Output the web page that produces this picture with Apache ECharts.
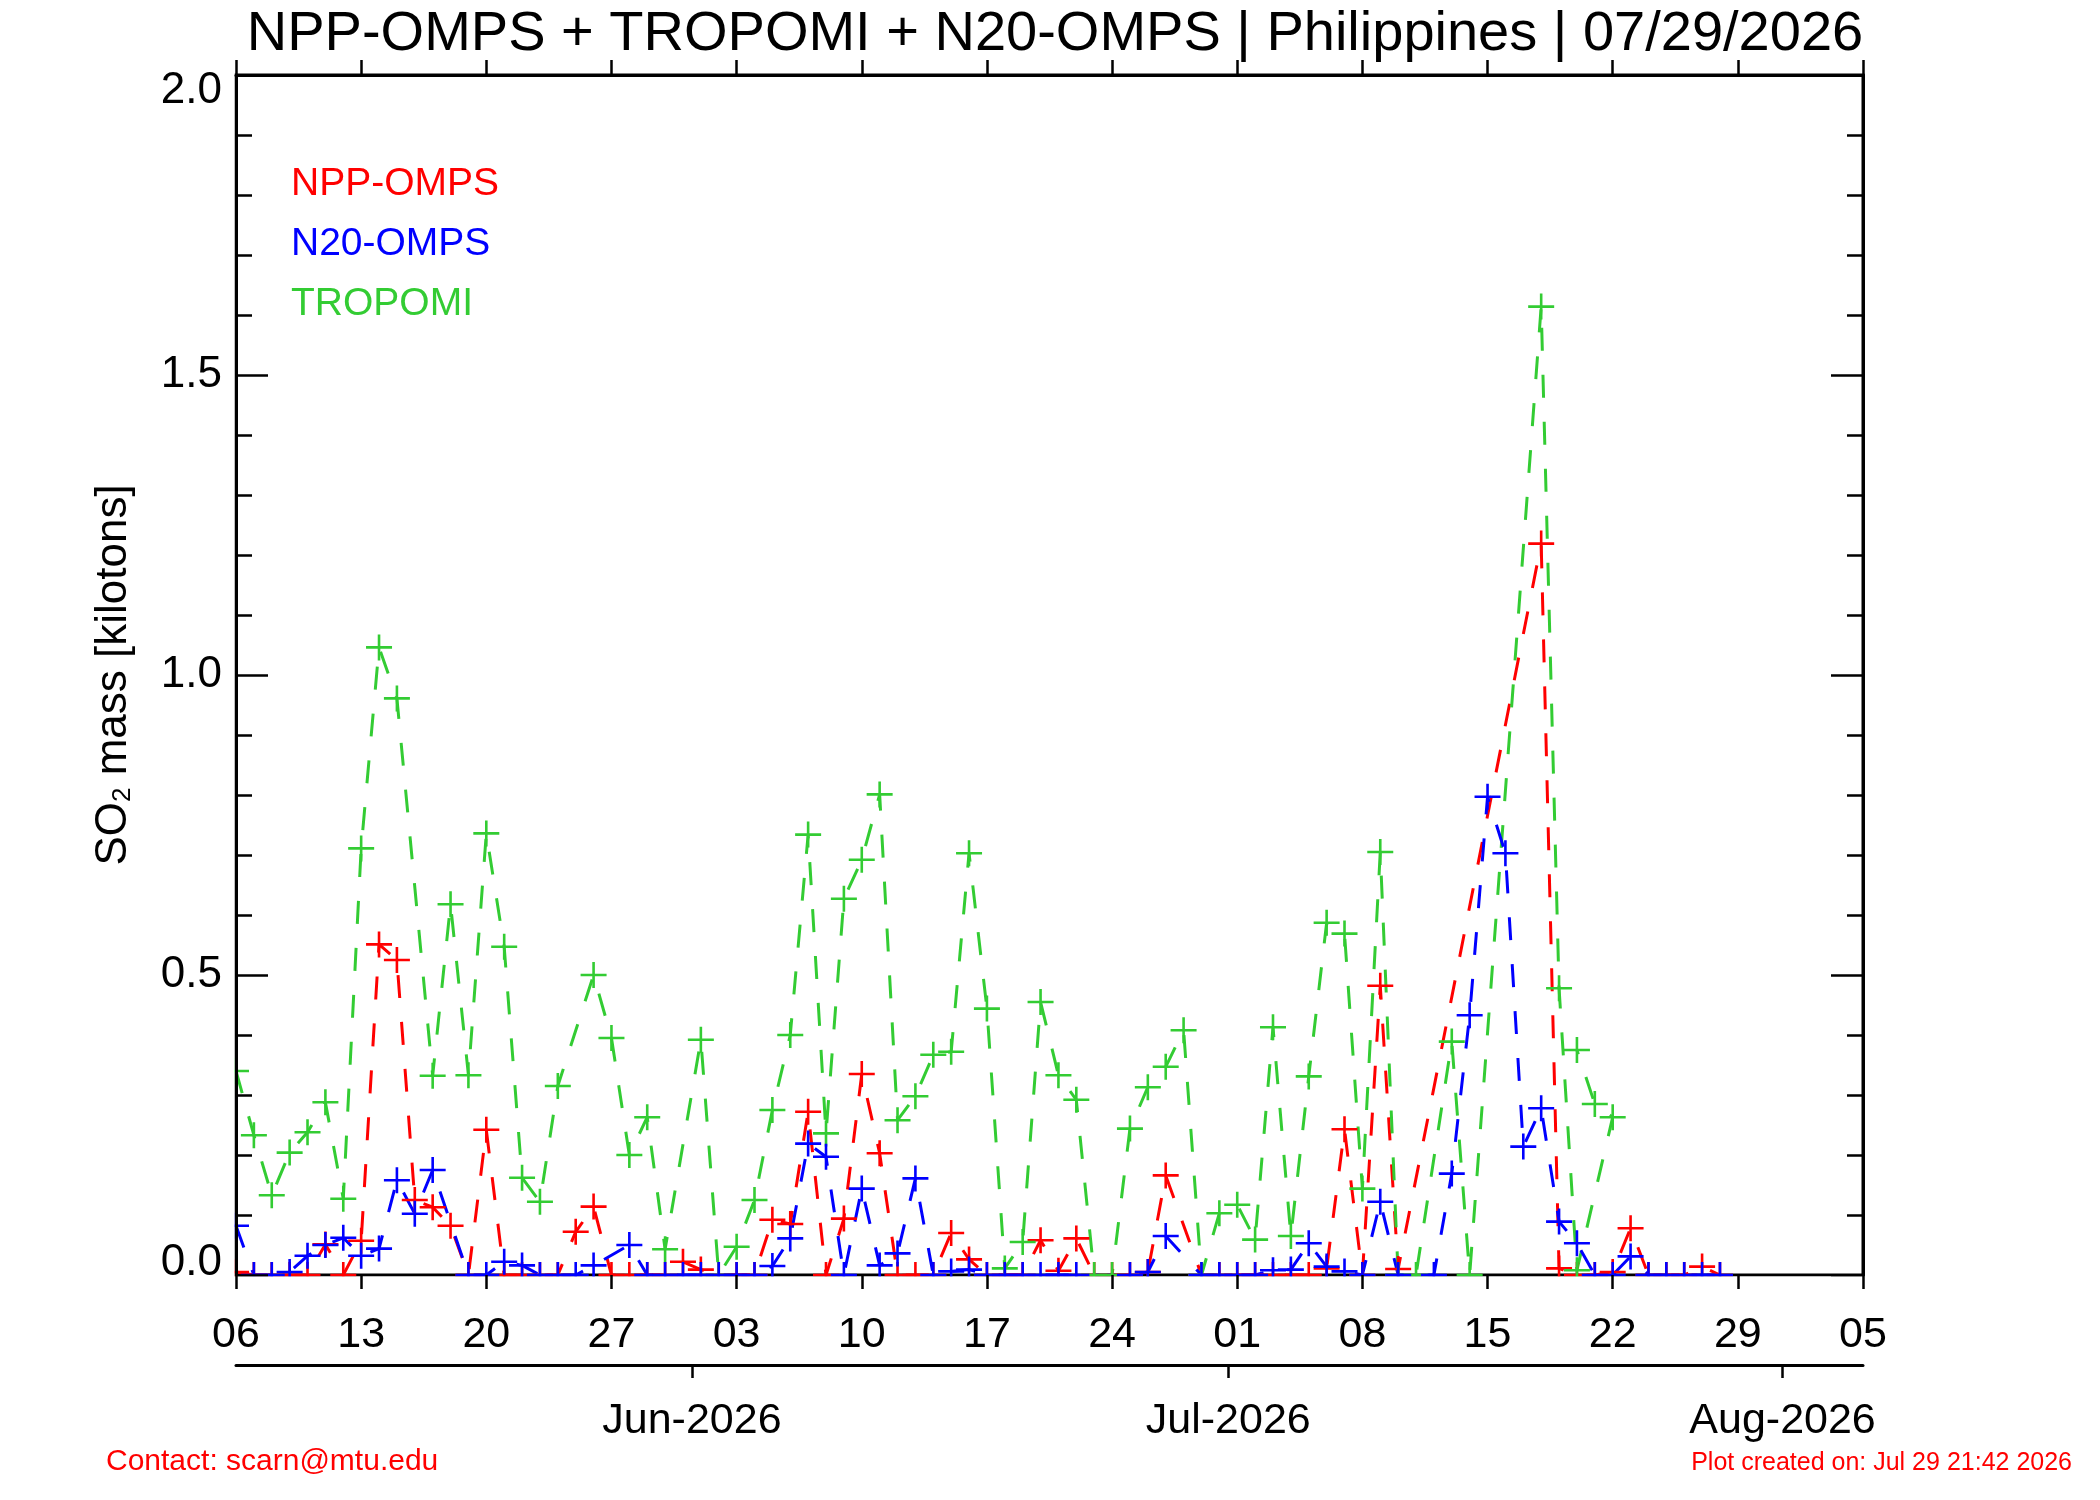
<!DOCTYPE html>
<html>
<head>
<meta charset="utf-8">
<script src="https://cdn.jsdelivr.net/npm/echarts@6/dist/echarts.min.js"></script>
<style>
  html, body { margin: 0; padding: 0; background: #ffffff; }
  #chart { width: 2100px; height: 1500px; }
</style>
</head>
<body>
<div id="chart"></div>
<script>
// Day index 0 = 06 May 2026
const dayTickLabels = ['06','13','20','27','03','10','17','24','01','08','15','22','29','05'];
const monthTicks = [25.5, 55.5, 86.5];
const monthLabels = ['Jun-2026', 'Jul-2026', 'Aug-2026'];
const yTickLabels = ['0.0', '0.5', '1.0', '1.5', '2.0'];

// NPP-OMPS (red), one value per day, null = no observation
const nppValues = [
  0.005, 0, 0, 0, 0, 0.051, 0, 0.057, 0.551, 0.525,
  0.125, 0.113, 0.082, 0, 0.242, 0, 0, 0, 0, 0.072,
  0.114, 0, 0, 0, 0, 0.022, 0.009, 0, 0, 0,
  0.092, 0.085, 0.272, 0, 0.094, 0.335, 0.203, 0, 0, 0,
  0.070, 0.026, 0, 0, 0, 0.058, 0.007, 0.061, 0, 0,
  0, 0.005, 0.166, null, 0, 0, 0, 0, 0, 0,
  0, 0.011, 0.243, 0, 0.482, 0.010, null, null, null, null,
  null, null, null, 1.219, 0.011, 0, 0, 0.005, 0.078, 0,
  0, 0, 0.014, 0
];

// N20-OMPS (blue)
const n20Values = [
  0.082, 0, 0, 0.005, 0.032, 0.050, 0.062, 0.032, 0.044, 0.158,
  0.102, 0.175, null, 0, 0, 0.022, 0.016, 0, 0, 0,
  0.016, null, 0.050, 0, 0, 0, 0, 0, 0, 0,
  0.015, 0.061, 0.219, 0.197, 0, 0.144, 0.016, 0.036, 0.161, 0,
  0.006, 0.009, 0, 0, 0, 0, 0, 0, null, null,
  0, 0.005, 0.065, null, 0, 0, 0, 0, 0.008, 0.009,
  0.053, 0.014, 0.006, 0, 0.122, 0, null, 0, 0.169, 0.433,
  0.797, 0.703, 0.214, 0.278, 0.089, 0.053, 0, 0, 0.031, 0,
  0, 0, 0, 0
];

// TROPOMI (green), days 0..74
const tropomiValues = [
  0.340, 0.233, 0.133, 0.204, 0.238, 0.288, 0.127, 0.711, 1.046, 0.961,
  null, 0.332, 0.618, 0.333, 0.736, 0.547, 0.162, 0.122, 0.315, null,
  0.500, 0.395, 0.200, 0.263, 0.043, null, 0.392, 0, 0.047, 0.125,
  0.275, 0.400, 0.734, 0.236, 0.627, 0.692, 0.801, 0.258, 0.298, 0.367,
  0.372, 0.703, 0.444, 0.011, 0.055, 0.455, 0.333, 0.292, 0, 0,
  0.244, 0.313, 0.347, 0.408, 0, 0.103, 0.117, 0.059, 0.413, 0.065,
  0.331, 0.587, 0.569, 0.144, 0.705, 0, 0, null, 0.389, 0,
  null, null, null, 1.614, 0.478
];
// TROPOMI last records, in the order they are plotted [day, value]
const tropomiTail = [[75, 0.008], [77, 0.263], [76, 0.285], [75, 0.375]];

function toPairs(vals) {
  const out = [];
  vals.forEach(function (v, i) { if (v !== null) out.push([i, v]); });
  return out;
}

const FONT = '"Liberation Sans", Arial, Helvetica, sans-serif';
const RED = '#ff0000', BLUE = '#0000ff', GREEN = '#33cc33';
const PLUS = 'path://M-1.3,-13H1.3V-1.3H13V1.3H1.3V13H-1.3V1.3H-13V-1.3H-1.3Z';

function lineSeries(name, color, data) {
  return {
    name: name,
    type: 'line',
    data: data,
    xAxisIndex: 0,
    yAxisIndex: 0,
    symbol: PLUS,
    symbolSize: 26,
    showSymbol: true,
    showAllSymbol: true,
    clip: true,
    silent: true,
    itemStyle: { color: color, borderWidth: 0 },
    lineStyle: { color: color, width: 3, type: [23, 24] },
    emphasis: { disabled: true },
    z: 2
  };
}

const chart = echarts.init(document.getElementById('chart'), null, { renderer: 'canvas' });

const yBase = { type: 'value', min: 0, max: 2, interval: 0.5, splitLine: { show: false } };
const xBase = { type: 'value', min: 0, max: 91, splitLine: { show: false } };

const option = {
  animation: false,
  backgroundColor: '#ffffff',
  grid: {
    left: 236, top: 75, width: 1627, height: 1200,
    show: true, borderColor: '#000000', borderWidth: 3, backgroundColor: 'transparent',
    containLabel: false
  },
  xAxis: [
    Object.assign({}, xBase, {
      position: 'bottom', interval: 7, z: 200,
      axisLine: { show: false, onZero: false },
      axisTick: { show: true, inside: false, length: 14, lineStyle: { color: '#000', width: 2.5 } },
      axisLabel: {
        show: true, margin: 60, verticalAlign: 'middle', color: '#000',
        fontFamily: FONT, fontSize: 43,
        formatter: function (v) { return dayTickLabels[Math.round(v / 7)]; }
      }
    }),
    Object.assign({}, xBase, {
      position: 'top', interval: 7, z: 200,
      axisLine: { show: true, onZero: false, lineStyle: { color: '#000', width: 3 } },
      axisTick: { show: true, inside: false, length: 15, lineStyle: { color: '#000', width: 2.5 } },
      axisLabel: { show: false }
    }),
    Object.assign({}, xBase, {
      position: 'bottom', offset: 90, z: 200,
      axisLine: { show: true, onZero: false, lineStyle: { color: '#000', width: 3 } },
      axisTick: { show: true, inside: false, length: 13, customValues: monthTicks, lineStyle: { color: '#000', width: 2.5 } },
      axisLabel: {
        show: true, margin: 56, verticalAlign: 'middle', color: '#000',
        fontFamily: FONT, fontSize: 43,
        customValues: monthTicks,
        formatter: function (v) {
          const i = monthTicks.indexOf(v);
          return i >= 0 ? monthLabels[i] : '';
        }
      }
    })
  ],
  yAxis: [
    // left: labels only (drawn above the white masks)
    Object.assign({}, yBase, {
      position: 'left', z: 200,
      axisLine: { show: false, onZero: false },
      axisTick: { show: false },
      minorTick: { show: false },
      axisLabel: {
        show: true, margin: 14, color: '#000', fontFamily: FONT, fontSize: 44,
        formatter: function (v) {
          const t = yTickLabels[Math.round(v / 0.5)];
          if (v >= 2) return '{top|' + t + '}';
          if (v <= 0) return '{bot|' + t + '}';
          return t;
        },
        rich: {
          top: { fontFamily: FONT, fontSize: 44, color: '#000', padding: [32, 0, 0, 0] },
          bot: { fontFamily: FONT, fontSize: 44, color: '#000', padding: [0, 0, 24, 0] }
        }
      }
    }),
    // right: inward ticks
    Object.assign({}, yBase, {
      position: 'right', z: 50,
      axisLine: { show: true, onZero: false, lineStyle: { color: '#000', width: 3 } },
      axisTick: { show: true, inside: true, length: 32, lineStyle: { color: '#000', width: 2.5 } },
      minorTick: { show: true, splitNumber: 5, length: 16, lineStyle: { color: '#000', width: 2.5 } },
      axisLabel: { show: false }
    }),
    // left: inward ticks (below the white masks)
    Object.assign({}, yBase, {
      position: 'left', offset: 0, z: 50,
      axisLine: { show: true, onZero: false, lineStyle: { color: '#000', width: 3 } },
      axisTick: { show: true, inside: true, length: 32, lineStyle: { color: '#000', width: 2.5 } },
      minorTick: { show: true, splitNumber: 5, length: 16, lineStyle: { color: '#000', width: 2.5 } },
      axisLabel: { show: false }
    })
  ],
  series: [
    lineSeries('NPP-OMPS', RED, toPairs(nppValues)),
    lineSeries('TROPOMI', GREEN, toPairs(tropomiValues).concat(tropomiTail)),
    lineSeries('N20-OMPS', BLUE, toPairs(n20Values))
  ],
  graphic: [
    // white masks so that markers are clipped at the plot frame
    { type: 'rect', z: 100, silent: true, shape: { x: 150, y: 60, width: 84.5, height: 1240 }, style: { fill: '#ffffff' } },
    { type: 'rect', z: 100, silent: true, shape: { x: 234, y: 1276.6, width: 1660, height: 30 }, style: { fill: '#ffffff' } },
    {
      type: 'text', z: 300, silent: true,
      style: {
        text: 'NPP-OMPS + TROPOMI + N20-OMPS | Philippines | 07/29/2026',
        x: 1055, y: 35, fill: '#000', font: '56px ' + FONT,
        align: 'center', verticalAlign: 'middle', textAlign: 'center', textVerticalAlign: 'middle'
      }
    },
    {
      type: 'text', z: 300, silent: true,
      style: { text: 'NPP-OMPS', x: 291, y: 184, fill: RED, font: '39px ' + FONT,
        align: 'left', verticalAlign: 'middle', textAlign: 'left', textVerticalAlign: 'middle' }
    },
    {
      type: 'text', z: 300, silent: true,
      style: { text: 'N20-OMPS', x: 291, y: 244, fill: BLUE, font: '39px ' + FONT,
        align: 'left', verticalAlign: 'middle', textAlign: 'left', textVerticalAlign: 'middle' }
    },
    {
      type: 'text', z: 300, silent: true,
      style: { text: 'TROPOMI', x: 291, y: 304, fill: GREEN, font: '39px ' + FONT,
        align: 'left', verticalAlign: 'middle', textAlign: 'left', textVerticalAlign: 'middle' }
    },
    {
      type: 'text', z: 300, silent: true,
      x: 114, y: 675, rotation: Math.PI / 2,
      style: {
        text: '{a|SO}{s|2}{a| mass [kilotons]}',
        x: 0, y: 0,
        align: 'center', verticalAlign: 'middle', textAlign: 'center', textVerticalAlign: 'middle',
        rich: {
          a: { fontFamily: FONT, fontSize: 44, fill: '#000', color: '#000', verticalAlign: 'middle' },
          s: { fontFamily: FONT, fontSize: 26, fill: '#000', color: '#000', verticalAlign: 'bottom' }
        }
      }
    },
    {
      type: 'text', z: 300, silent: true,
      style: { text: 'Contact: scarn@mtu.edu', x: 106, y: 1462, fill: RED, font: '30px ' + FONT,
        align: 'left', verticalAlign: 'middle', textAlign: 'left', textVerticalAlign: 'middle' }
    },
    {
      type: 'text', z: 300, silent: true,
      style: { text: 'Plot created on: Jul 29 21:42 2026', x: 2072, y: 1463, fill: RED, font: '25px ' + FONT,
        align: 'right', verticalAlign: 'middle', textAlign: 'right', textVerticalAlign: 'middle' }
    }
  ]
};

chart.setOption(option);
</script>
</body>
</html>
